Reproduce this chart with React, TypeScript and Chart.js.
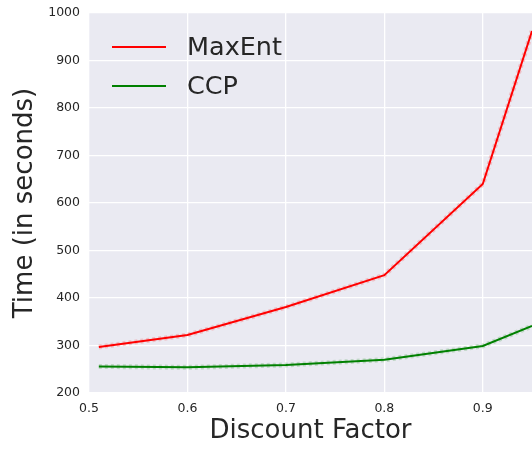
import React, { useEffect, useRef } from "react";
import { Chart, registerables } from "chart.js";

Chart.register(...registerables);

const discountFactors = [0.51, 0.6, 0.7, 0.8, 0.9, 0.95];
const maxEntTimes = [297, 322, 381, 448, 640, 962];
const ccpTimes = [256, 254, 259, 270, 299, 341];
const xTickValues = [0.5, 0.6, 0.7, 0.8, 0.9];
const seriesLabels = ["MaxEnt", "CCP"];
const seriesColors = ["#ff0000", "#008000"];
const haloColors = ["rgba(255,0,0,0.18)", "rgba(0,128,0,0.18)"];

const FONT = "'DejaVu Sans', sans-serif";
const TEXT = "#262626";

const bgPlugin = {
  id: "plotBg",
  beforeDraw(chart: any) {
    const { ctx, chartArea } = chart;
    ctx.save();
    ctx.fillStyle = "#EAEAF2";
    ctx.fillRect(chartArea.left, chartArea.top, chartArea.right - chartArea.left, chartArea.bottom - chartArea.top);
    ctx.restore();
  },
};

const legendPlugin = {
  id: "innerLegend",
  afterDatasetsDraw(chart: any) {
    const { ctx } = chart;
    const rows = [47, 86];
    ctx.save();
    seriesLabels.forEach((label, i) => {
      ctx.strokeStyle = seriesColors[i];
      ctx.lineWidth = 2;
      ctx.beginPath();
      ctx.moveTo(112, rows[i]);
      ctx.lineTo(166, rows[i]);
      ctx.stroke();
      ctx.fillStyle = TEXT;
      ctx.font = `25.5px ${FONT}`;
      ctx.textBaseline = "middle";
      ctx.textAlign = "left";
      ctx.fillText(label, 187, rows[i] + 1);
    });
    ctx.restore();
  },
};

export default function App() {
  const ref = useRef<HTMLCanvasElement | null>(null);
  useEffect(() => {
    if (!ref.current) return;
    const mk = (vals: number[]) => discountFactors.map((x, i) => ({ x, y: vals[i] }));
    const series = [maxEntTimes, ccpTimes];
    const datasets: any[] = [];
    series.forEach((vals, i) => {
      datasets.push({
        label: seriesLabels[i] + " halo",
        data: mk(vals),
        borderColor: haloColors[i],
        borderWidth: 5,
        borderDash: [3, 3],
        pointRadius: 0,
        tension: 0,
        order: 2,
      });
    });
    series.forEach((vals, i) => {
      datasets.push({
        label: seriesLabels[i],
        data: mk(vals),
        borderColor: seriesColors[i],
        borderWidth: 2,
        pointRadius: 0,
        tension: 0,
        order: 1,
      });
    });
    const chart = new Chart(ref.current, {
      type: "line",
      data: { datasets },
      options: {
        animation: false,
        responsive: false,
        devicePixelRatio: 1,
        layout: { padding: { top: 13, right: 0, left: 0, bottom: 0 } },
        plugins: { legend: { display: false }, tooltip: { enabled: false } },
        scales: {
          x: {
            type: "linear",
            min: 0.5,
            max: 0.95,
            afterBuildTicks: (axis: any) => {
              axis.ticks = xTickValues.map((v) => ({ value: v }));
            },
            afterFit: (axis: any) => {
              axis.height = 56;
              axis.paddingLeft = 0;
              axis.paddingRight = 0;
            },
            grid: { color: "#ffffff", lineWidth: 1.3, drawTicks: false },
            border: { display: false },
            ticks: {
              padding: 8,
              color: TEXT,
              font: { family: FONT, size: 12.5 },
              callback: (v: any) => Number(v).toFixed(1),
              maxRotation: 0,
            },
            title: {
              display: true,
              text: "Discount Factor",
              color: TEXT,
              font: { family: FONT, size: 26 },
              padding: { top: 0, bottom: 2 },
            },
          },
          y: {
            min: 200,
            max: 1000,
            afterFit: (axis: any) => {
              axis.width = 89;
              axis.paddingTop = 0;
              axis.paddingBottom = 0;
            },
            grid: { color: "#ffffff", lineWidth: 1.3, drawTicks: false },
            border: { display: false },
            ticks: {
              stepSize: 100,
              padding: 9,
              color: TEXT,
              font: { family: FONT, size: 12.5 },
              callback: (v: any) => String(v),
            },
            title: {
              display: true,
              text: "Time (in seconds)",
              color: TEXT,
              font: { family: FONT, size: 26 },
              padding: { top: 9.5, bottom: 0 },
            },
          },
        },
      },
      plugins: [bgPlugin, legendPlugin],
    });
    return () => chart.destroy();
  }, []);
  return (
    <div style={{ position: "fixed", left: 0, top: 0, width: 532, height: 449, background: "#ffffff" }}>
      <canvas ref={ref} width={532} height={449} style={{ width: 532, height: 449, display: "block" }} />
    </div>
  );
}
